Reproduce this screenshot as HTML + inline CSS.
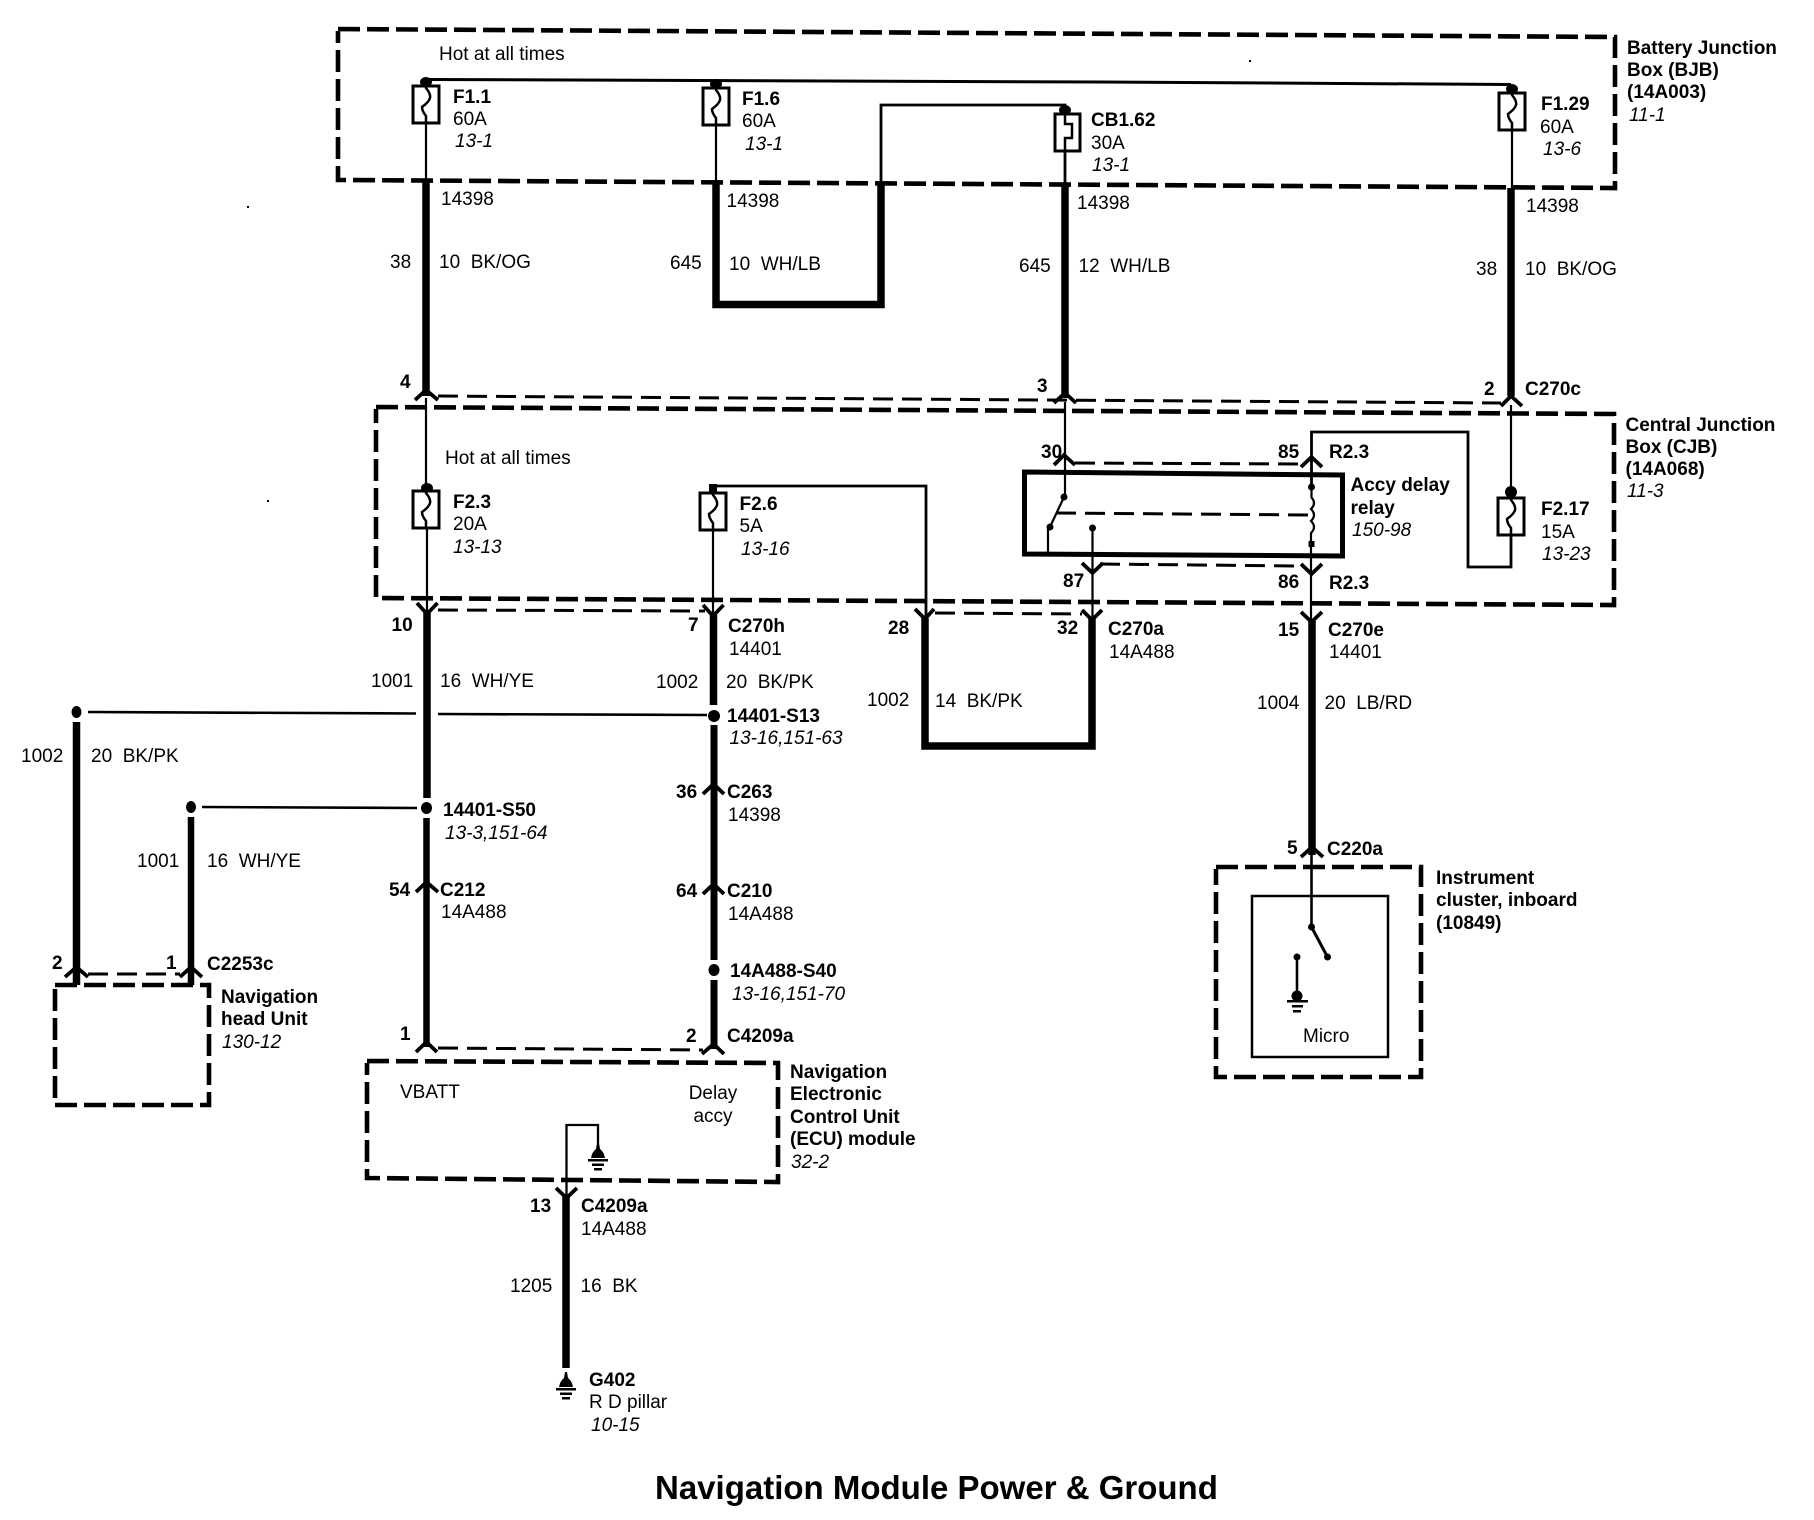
<!DOCTYPE html>
<html>
<head>
<meta charset="utf-8">
<style>
html,body{margin:0;padding:0;background:#fff;width:1814px;height:1520px;overflow:hidden}
svg{display:block}
text{font-family:"Liberation Sans",sans-serif;font-size:19px;fill:#000;white-space:pre}
.b{font-weight:700}
.i{font-style:italic}
.t{font-weight:700;font-size:33px}
.w{fill:none;stroke:#000;stroke-width:2.2;stroke-linejoin:miter}
.k{fill:none;stroke:#000;stroke-width:7.5;stroke-linejoin:miter}
.c{fill:none;stroke:#000;stroke-width:3.8}
.d{fill:none;stroke:#000;stroke-width:4.6;stroke-dasharray:22 7;stroke-linejoin:miter}
.e{fill:none;stroke:#000;stroke-width:3;stroke-dasharray:20 9}
</style>
</head>
<body>
<svg width="1814" height="1520" viewBox="0 0 1814 1520" xmlns="http://www.w3.org/2000/svg">
<defs>
<g id="fuse">
<rect x="-13" y="0" width="26" height="37" fill="#fff" stroke="#000" stroke-width="3"/>
<path d="M0 -2 L0 2 Q5 8 4 12 Q3 16 -4 21 Q-4 25 0 30 L0 38" fill="none" stroke="#000" stroke-width="2.5"/>
</g>
<g id="gnd">
<path d="M-1 -10 L1 -10 L2 -4 Q6 -1 7 5 L-7 5 Q-6 -1 -2 -4 Z"/>
<rect x="-10" y="6" width="20" height="2.5"/>
<rect x="-6" y="10.5" width="12" height="2.5"/>
<rect x="-4" y="15" width="8" height="2.5"/>
</g>
</defs>

<!-- dashed boxes -->
<path class="d" d="M338 29 L1615 37 L1615 188 L342 180 L338 180 L338 31"/>
<path class="d" d="M376 407 L1614 414 L1614 605 L376 598 L376 409"/>
<path class="d" d="M55 985 L209 985 L209 1105 L55 1105 L55 987"/>
<path class="d" d="M367 1061 L778 1063 L778 1182 L367 1178 L367 1063"/>
<path class="d" d="M1216 867 L1421 867 L1421 1077 L1216 1077 L1216 869"/>

<!-- thin dashed connector links -->
<path class="e" d="M438 396 L1501 403"/>
<path class="e" d="M1075 463 L1301 464"/>
<path class="e" d="M1100 564 L1300 566"/>
<path class="e" d="M1056 513 L1311 515"/>
<path class="e" d="M438 610 L705 611"/>
<path class="e" d="M935 613 L1082 614"/>
<path class="e" d="M88 974 L180 974"/>
<path class="e" d="M438 1048 L703 1050"/>

<!-- top bus and thin wires -->
<path d="M426 79.5 L1100 82 L1511 84.5" fill="none" stroke="#000" stroke-width="3"/>
<path class="w" d="M426 80 V180"/>
<path class="w" d="M716 83 V182"/>
<path class="w" d="M881 183 V105 H1065 V184" style="stroke-width:2.8"/>
<path class="w" d="M1512 85 V188"/>
<ellipse cx="426" cy="82" rx="6" ry="5"/>
<ellipse cx="716" cy="84" rx="6" ry="5"/>
<ellipse cx="1065" cy="110" rx="6" ry="5"/>
<ellipse cx="1512" cy="89" rx="6" ry="5"/>
<use href="#fuse" x="426" y="86"/>
<use href="#fuse" x="716" y="88"/>
<use href="#fuse" x="1512" y="93"/>
<rect x="1055" y="114" width="25" height="37" fill="#fff" stroke="#000" stroke-width="3"/>
<path d="M1065 110 V124 H1072 V138 H1065 V152" fill="none" stroke="#000" stroke-width="2.5"/>

<!-- thick wires top -->
<path class="k" d="M426 180 V396"/>
<path class="k" d="M716 182 V304.500 H881 V183"/>
<path class="k" d="M1065 184 V398"/>
<path class="k" d="M1511 188 V396"/>

<!-- wires through CJB -->
<path class="w" d="M426 398 V488"/>
<path class="w" d="M1065 402 V497"/>
<path class="w" d="M1511 405 V491"/>
<path class="w" d="M1511 535 V567 H1468 V432 H1311.500 V487" style="stroke-width:2.8"/>
<ellipse cx="427" cy="488" rx="6" ry="5"/>
<ellipse cx="1511" cy="492" rx="6" ry="6"/>
<use href="#fuse" x="426" y="491"/>
<use href="#fuse" x="713" y="493"/>
<use href="#fuse" x="1511" y="498"/>
<path class="w" d="M427 529 V613"/>
<path class="w" d="M713 530 V615"/>
<path d="M713 493 V486 H926 V618" fill="none" stroke="#000" stroke-width="2.8"/>
<rect x="709" y="484" width="8" height="9"/>

<!-- relay -->
<path d="M1024.500 472 L1342.500 475 L1342.500 556 L1024.500 554 Z" fill="none" stroke="#000" stroke-width="5"/>
<path class="w" d="M1064 497 L1050 527"/>
<circle cx="1064" cy="497" r="3.500"/>
<circle cx="1050" cy="527" r="3.500"/>
<path class="w" d="M1048 527 V555"/>
<circle cx="1092.500" cy="528" r="3.500"/>
<path class="w" d="M1092.500 528 V619"/>
<path class="w" d="M1311.500 467 V497"/>
<circle cx="1311.500" cy="487" r="3.500"/>
<path class="w" d="M1311 497 q6 6 0 12 q6 6 0 12 q6 6 0 12 V621"/>
<rect x="1308.500" y="541" width="6" height="6"/>

<!-- mid thick wires -->
<path class="k" d="M427 613 V798"/>
<ellipse cx="426.500" cy="808" rx="5.500" ry="6"/>
<path d="M426.500 818 V1047" fill="none" stroke="#000" stroke-width="6.500"/>
<path class="k" d="M713.500 615 V705"/>
<ellipse cx="714" cy="716" rx="6" ry="6"/>
<path d="M714 725 V960" fill="none" stroke="#000" stroke-width="7"/>
<ellipse cx="714" cy="970" rx="5.500" ry="6"/>
<path d="M714 980 V1049" fill="none" stroke="#000" stroke-width="7"/>
<path class="k" d="M925 618 V746 H1092 V619"/>
<path class="k" d="M1312 621 V855"/>

<!-- cross wires -->
<path d="M88 712 L416 713.500" fill="none" stroke="#000" stroke-width="2.6"/>
<path d="M438 714 L707 715" fill="none" stroke="#000" stroke-width="2.6"/>
<path d="M202 807 L417 808" fill="none" stroke="#000" stroke-width="2.6"/>

<!-- left wires -->
<ellipse cx="76.500" cy="712" rx="5" ry="6"/>
<path d="M76.500 722 V985" fill="none" stroke="#000" stroke-width="7.500"/>
<ellipse cx="191" cy="807" rx="5" ry="6"/>
<path d="M191 817 V985" fill="none" stroke="#000" stroke-width="6.500"/>

<!-- instrument cluster -->
<rect x="1252" y="896" width="136" height="161" fill="none" stroke="#000" stroke-width="2.500"/>
<path d="M1311.500 855 V927" fill="none" stroke="#000" stroke-width="2.6"/>
<circle cx="1311.500" cy="927" r="3.500"/>
<path d="M1311.500 927 L1327.500 957" fill="none" stroke="#000" stroke-width="3"/>
<circle cx="1327.500" cy="957" r="3.500"/>
<circle cx="1297" cy="957" r="3.500"/>
<path d="M1297 957 V992" fill="none" stroke="#000" stroke-width="2.6"/>
<circle cx="1297" cy="996" r="5.500"/>
<rect x="1287" y="1000" width="21" height="2.500"/>
<rect x="1292" y="1005" width="11" height="2.500"/>
<rect x="1293" y="1010" width="8" height="2.500"/>

<!-- ECU inner -->
<path d="M566.500 1197 V1125 H598 V1143" fill="none" stroke="#000" stroke-width="2.300"/>
<use href="#gnd" x="598" y="1153"/>
<path d="M566 1197 V1368" fill="none" stroke="#000" stroke-width="7.500"/>
<use href="#gnd" x="566" y="1382"/>

<!-- chevrons up -->
<path class="c" d="M415 400 L426 390 L438 400"/>
<path class="c" d="M1054 403 L1065 393 L1076 403"/>
<path class="c" d="M1501 406 L1511 396 L1522 406"/>
<path class="c" d="M1054 465 L1064 455 L1075 465"/>
<path class="c" d="M1301 467 L1311.500 457 L1322 467"/>
<path class="c" d="M1301 857 L1312 847 L1323 857"/>
<path class="c" d="M703 794 L713.500 784 L724 794"/>
<path class="c" d="M703 894 L713.500 884 L724 894"/>
<path class="c" d="M416 892 L426.500 882 L438 892"/>
<path class="c" d="M65 977 L76.500 967 L88 977"/>
<path class="c" d="M180 977 L191 967 L202 977"/>
<path class="c" d="M416 1052 L426.500 1042 L437 1052"/>
<path class="c" d="M702 1054 L713.500 1044 L724 1054"/>
<!-- chevrons down -->
<path class="c" d="M417 603 L427 614 L437.500 603"/>
<path class="c" d="M703 605 L713 616 L723.500 605"/>
<path class="c" d="M915 609 L925 619 L934 609"/>
<path class="c" d="M1082 610 L1092 620 L1102 610"/>
<path class="c" d="M1082 563 L1092.500 573 L1103 563"/>
<path class="c" d="M1301 564 L1311.500 574 L1322 564"/>
<path class="c" d="M1301 612 L1311.500 622 L1322 612"/>
<path class="c" d="M556 1188 L566.500 1198 L577 1188"/>

<!-- specks -->
<rect x="1249" y="60" width="2" height="2"/>
<rect x="247" y="206" width="2" height="2"/>
<rect x="267" y="500" width="2" height="2"/>

<!-- text: BJB -->
<text x="439" y="60">Hot at all times</text>
<text class="b" x="453" y="103">F1.1</text><text x="453" y="125">60A</text><text class="i" x="455" y="147">13-1</text>
<text class="b" x="742" y="105">F1.6</text><text x="742" y="127">60A</text><text class="i" x="745" y="150">13-1</text>
<text class="b" x="1091" y="126">CB1.62</text><text x="1091" y="149">30A</text><text class="i" x="1092" y="171">13-1</text>
<text class="b" x="1541" y="110">F1.29</text><text x="1540" y="133">60A</text><text class="i" x="1543" y="155">13-6</text>
<text class="b" x="1627" y="54">Battery Junction</text>
<text class="b" x="1627" y="76">Box (BJB)</text>
<text class="b" x="1627" y="98">(14A003)</text>
<text class="i" x="1629" y="121">11-1</text>

<text x="441" y="205">14398</text>
<text x="726.500" y="207">14398</text>
<text x="1077" y="209">14398</text>
<text x="1526" y="212">14398</text>
<text x="390" y="268">38</text><text x="439" y="268">10  BK/OG</text>
<text x="670" y="269">645</text><text x="729" y="270">10  WH/LB</text>
<text x="1019" y="272">645</text><text x="1078.500" y="272">12  WH/LB</text>
<text x="1476" y="275">38</text><text x="1525" y="275">10  BK/OG</text>

<text class="b" x="400" y="388">4</text>
<text class="b" x="1037" y="392">3</text>
<text class="b" x="1484" y="395">2</text>
<text class="b" x="1525" y="395">C270c</text>

<!-- CJB -->
<text x="445" y="464">Hot at all times</text>
<text class="b" x="453" y="508">F2.3</text><text x="453" y="530">20A</text><text class="i" x="453" y="553">13-13</text>
<text class="b" x="739.500" y="510">F2.6</text><text x="739.500" y="532">5A</text><text class="i" x="741" y="555">13-16</text>
<text class="b" x="1541" y="515">F2.17</text><text x="1541" y="538">15A</text><text class="i" x="1542" y="560">13-23</text>
<text class="b" x="1041" y="458">30</text>
<text class="b" x="1278" y="458">85</text>
<text class="b" x="1329" y="458">R2.3</text>
<text class="b" x="1350.500" y="491">Accy delay</text>
<text class="b" x="1350.500" y="514">relay</text>
<text class="i" x="1352" y="536">150-98</text>
<text class="b" x="1063" y="587">87</text>
<text class="b" x="1278" y="588">86</text>
<text class="b" x="1329" y="589">R2.3</text>
<text class="b" x="1625.500" y="431">Central Junction</text>
<text class="b" x="1625.500" y="453">Box (CJB)</text>
<text class="b" x="1625.500" y="475">(14A068)</text>
<text class="i" x="1627" y="497">11-3</text>

<text class="b" x="391.500" y="631">10</text>
<text class="b" x="688" y="631">7</text>
<text class="b" x="728" y="632">C270h</text><text x="729" y="655">14401</text>
<text class="b" x="888" y="634">28</text>
<text class="b" x="1057" y="634">32</text>
<text class="b" x="1108" y="635">C270a</text><text x="1109" y="658">14A488</text>
<text class="b" x="1278" y="636">15</text>
<text class="b" x="1328" y="636">C270e</text><text x="1329" y="658">14401</text>

<text x="371" y="687">1001</text><text x="440" y="687">16  WH/YE</text>
<text x="656" y="688">1002</text><text x="726" y="688">20  BK/PK</text>
<text x="867" y="706">1002</text><text x="935" y="707">14  BK/PK</text>
<text x="1257" y="709">1004</text><text x="1324.500" y="709">20  LB/RD</text>
<text x="21" y="762">1002</text><text x="91" y="762">20  BK/PK</text>
<text x="137" y="867">1001</text><text x="207" y="867">16  WH/YE</text>

<text class="b" x="727" y="722">14401-S13</text><text class="i" x="729.500" y="744">13-16,151-63</text>
<text class="b" x="443" y="816">14401-S50</text><text class="i" x="445" y="839">13-3,151-64</text>
<text class="b" x="676" y="798">36</text><text class="b" x="727" y="798">C263</text><text x="728" y="821">14398</text>
<text class="b" x="389" y="896">54</text><text class="b" x="440" y="896">C212</text><text x="441" y="918">14A488</text>
<text class="b" x="676" y="897">64</text><text class="b" x="727" y="897">C210</text><text x="728" y="920">14A488</text>
<text class="b" x="730" y="977">14A488-S40</text><text class="i" x="732" y="1000">13-16,151-70</text>

<text class="b" x="1287" y="854">5</text><text class="b" x="1327" y="855">C220a</text>
<text class="b" x="1436" y="884">Instrument</text>
<text class="b" x="1436" y="906">cluster, inboard</text>
<text class="b" x="1436" y="929">(10849)</text>
<text x="1303" y="1042">Micro</text>

<text class="b" x="52" y="969">2</text>
<text class="b" x="166" y="969">1</text>
<text class="b" x="207" y="970">C2253c</text>
<text class="b" x="221" y="1003">Navigation</text>
<text class="b" x="221" y="1025">head Unit</text>
<text class="i" x="222" y="1048">130-12</text>

<text class="b" x="400" y="1040">1</text>
<text class="b" x="686" y="1042">2</text>
<text class="b" x="727" y="1042">C4209a</text>
<text x="400" y="1098">VBATT</text>
<text x="713" y="1099" text-anchor="middle">Delay</text>
<text x="713" y="1122" text-anchor="middle">accy</text>
<text class="b" x="790" y="1078">Navigation</text>
<text class="b" x="790" y="1100">Electronic</text>
<text class="b" x="790" y="1123">Control Unit</text>
<text class="b" x="790" y="1145">(ECU) module</text>
<text class="i" x="791" y="1168">32-2</text>

<text class="b" x="530" y="1212">13</text>
<text class="b" x="581" y="1212">C4209a</text><text x="581" y="1235">14A488</text>
<text x="510" y="1292">1205</text><text x="580.500" y="1292">16  BK</text>
<text class="b" x="589" y="1386">G402</text>
<text x="589" y="1408">R D pillar</text>
<text class="i" x="591" y="1431">10-15</text>

<text class="t" x="655" y="1499">Navigation Module Power &amp; Ground</text>
</svg>
</body>
</html>
